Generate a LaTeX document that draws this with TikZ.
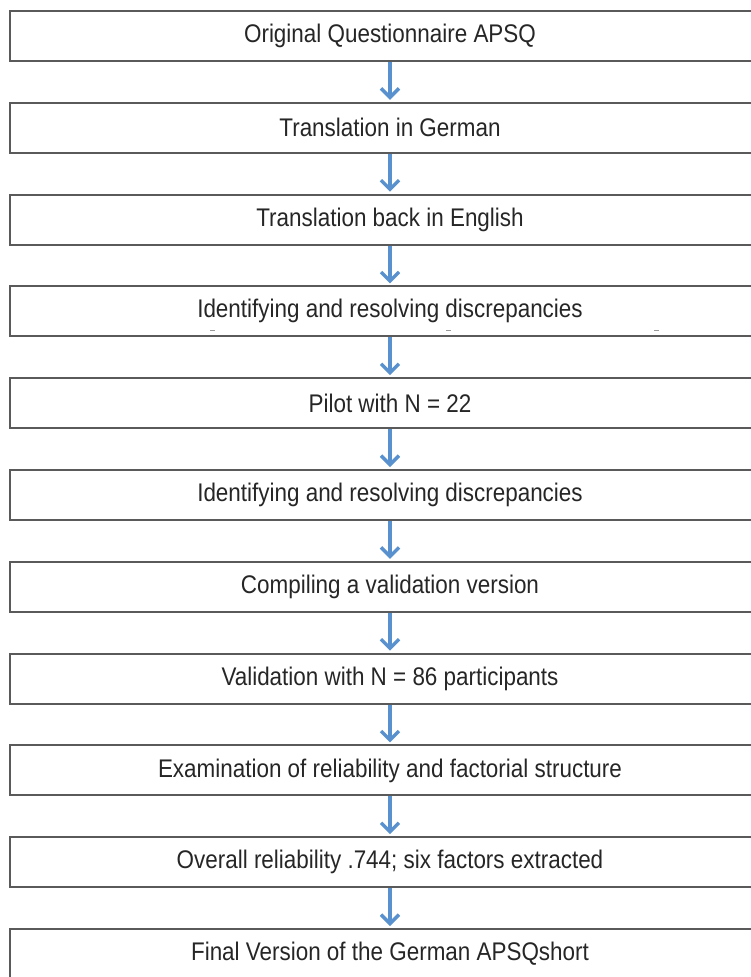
\documentclass[tikz,border=0pt]{standalone}
\usepackage{fontspec}
\setmainfont[FakeStretch=0.88]{Liberation Sans}
\usetikzlibrary{arrows.meta}
\definecolor{flowblue}{RGB}{88,145,206}
\definecolor{boxgray}{RGB}{90,90,90}
\begin{document}
\begin{tikzpicture}
	[x=1pt, y=1pt,
	node distance={91.8pt},
	main/.style = {draw=boxgray, line width=2pt, rectangle, minimum width=760pt, minimum height=50pt, inner sep=0pt, text=black!85, font=\fontsize{25.5}{30}\selectfont},
	flow/.style = {draw=flowblue, line width=3.4pt, shorten >=2pt, -{Straight Barb[length=9pt,width=18pt,line width=3.4pt]}}]
\useasboundingbox (0,0) rectangle (751,-977);
\clip (0,0) rectangle (751,-977);
\node[main] (1) at (390,-36) {Original Questionnaire APSQ};
\node[main] (2) [below of=1] {Translation in German};
\node[main] (3) [below of=2] {Translation back in English};
\node[main] (4) [below of=3] {Identifying and resolving discrepancies};
\node[main] (5) [below of=4] {Pilot with N = 22};
\node[main] (6) [below of=5] {Identifying and resolving discrepancies};
\node[main] (7) [below of=6] {Compiling a validation version};
\node[main] (8) [below of=7] {Validation with N = 86 participants};
\node[main] (9) [below of=8] {Examination of reliability and factorial structure};
\node[main] (10) [below of=9] {Overall reliability .744; six factors extracted};
\node[main] (11) [below of=10] {Final Version of the German APSQshort};
\draw[flow] (1) -- (2);
\draw[flow] (2) -- (3);
\draw[flow] (3) -- (4);
\draw[flow] (4) -- (5);
\draw[flow] (5) -- (6);
\draw[flow] (6) -- (7);
\draw[flow] (7) -- (8);
\draw[flow] (8) -- (9);
\draw[flow] (9) -- (10);
\draw[flow] (10) -- (11);
% small marks under the text of box 4
\draw[black!40, line width=1pt] (210,-330) -- (215,-330);
\draw[black!40, line width=1pt] (446,-330) -- (451,-330);
\draw[black!40, line width=1pt] (654,-330) -- (659,-330);
\end{tikzpicture}
\end{document}
